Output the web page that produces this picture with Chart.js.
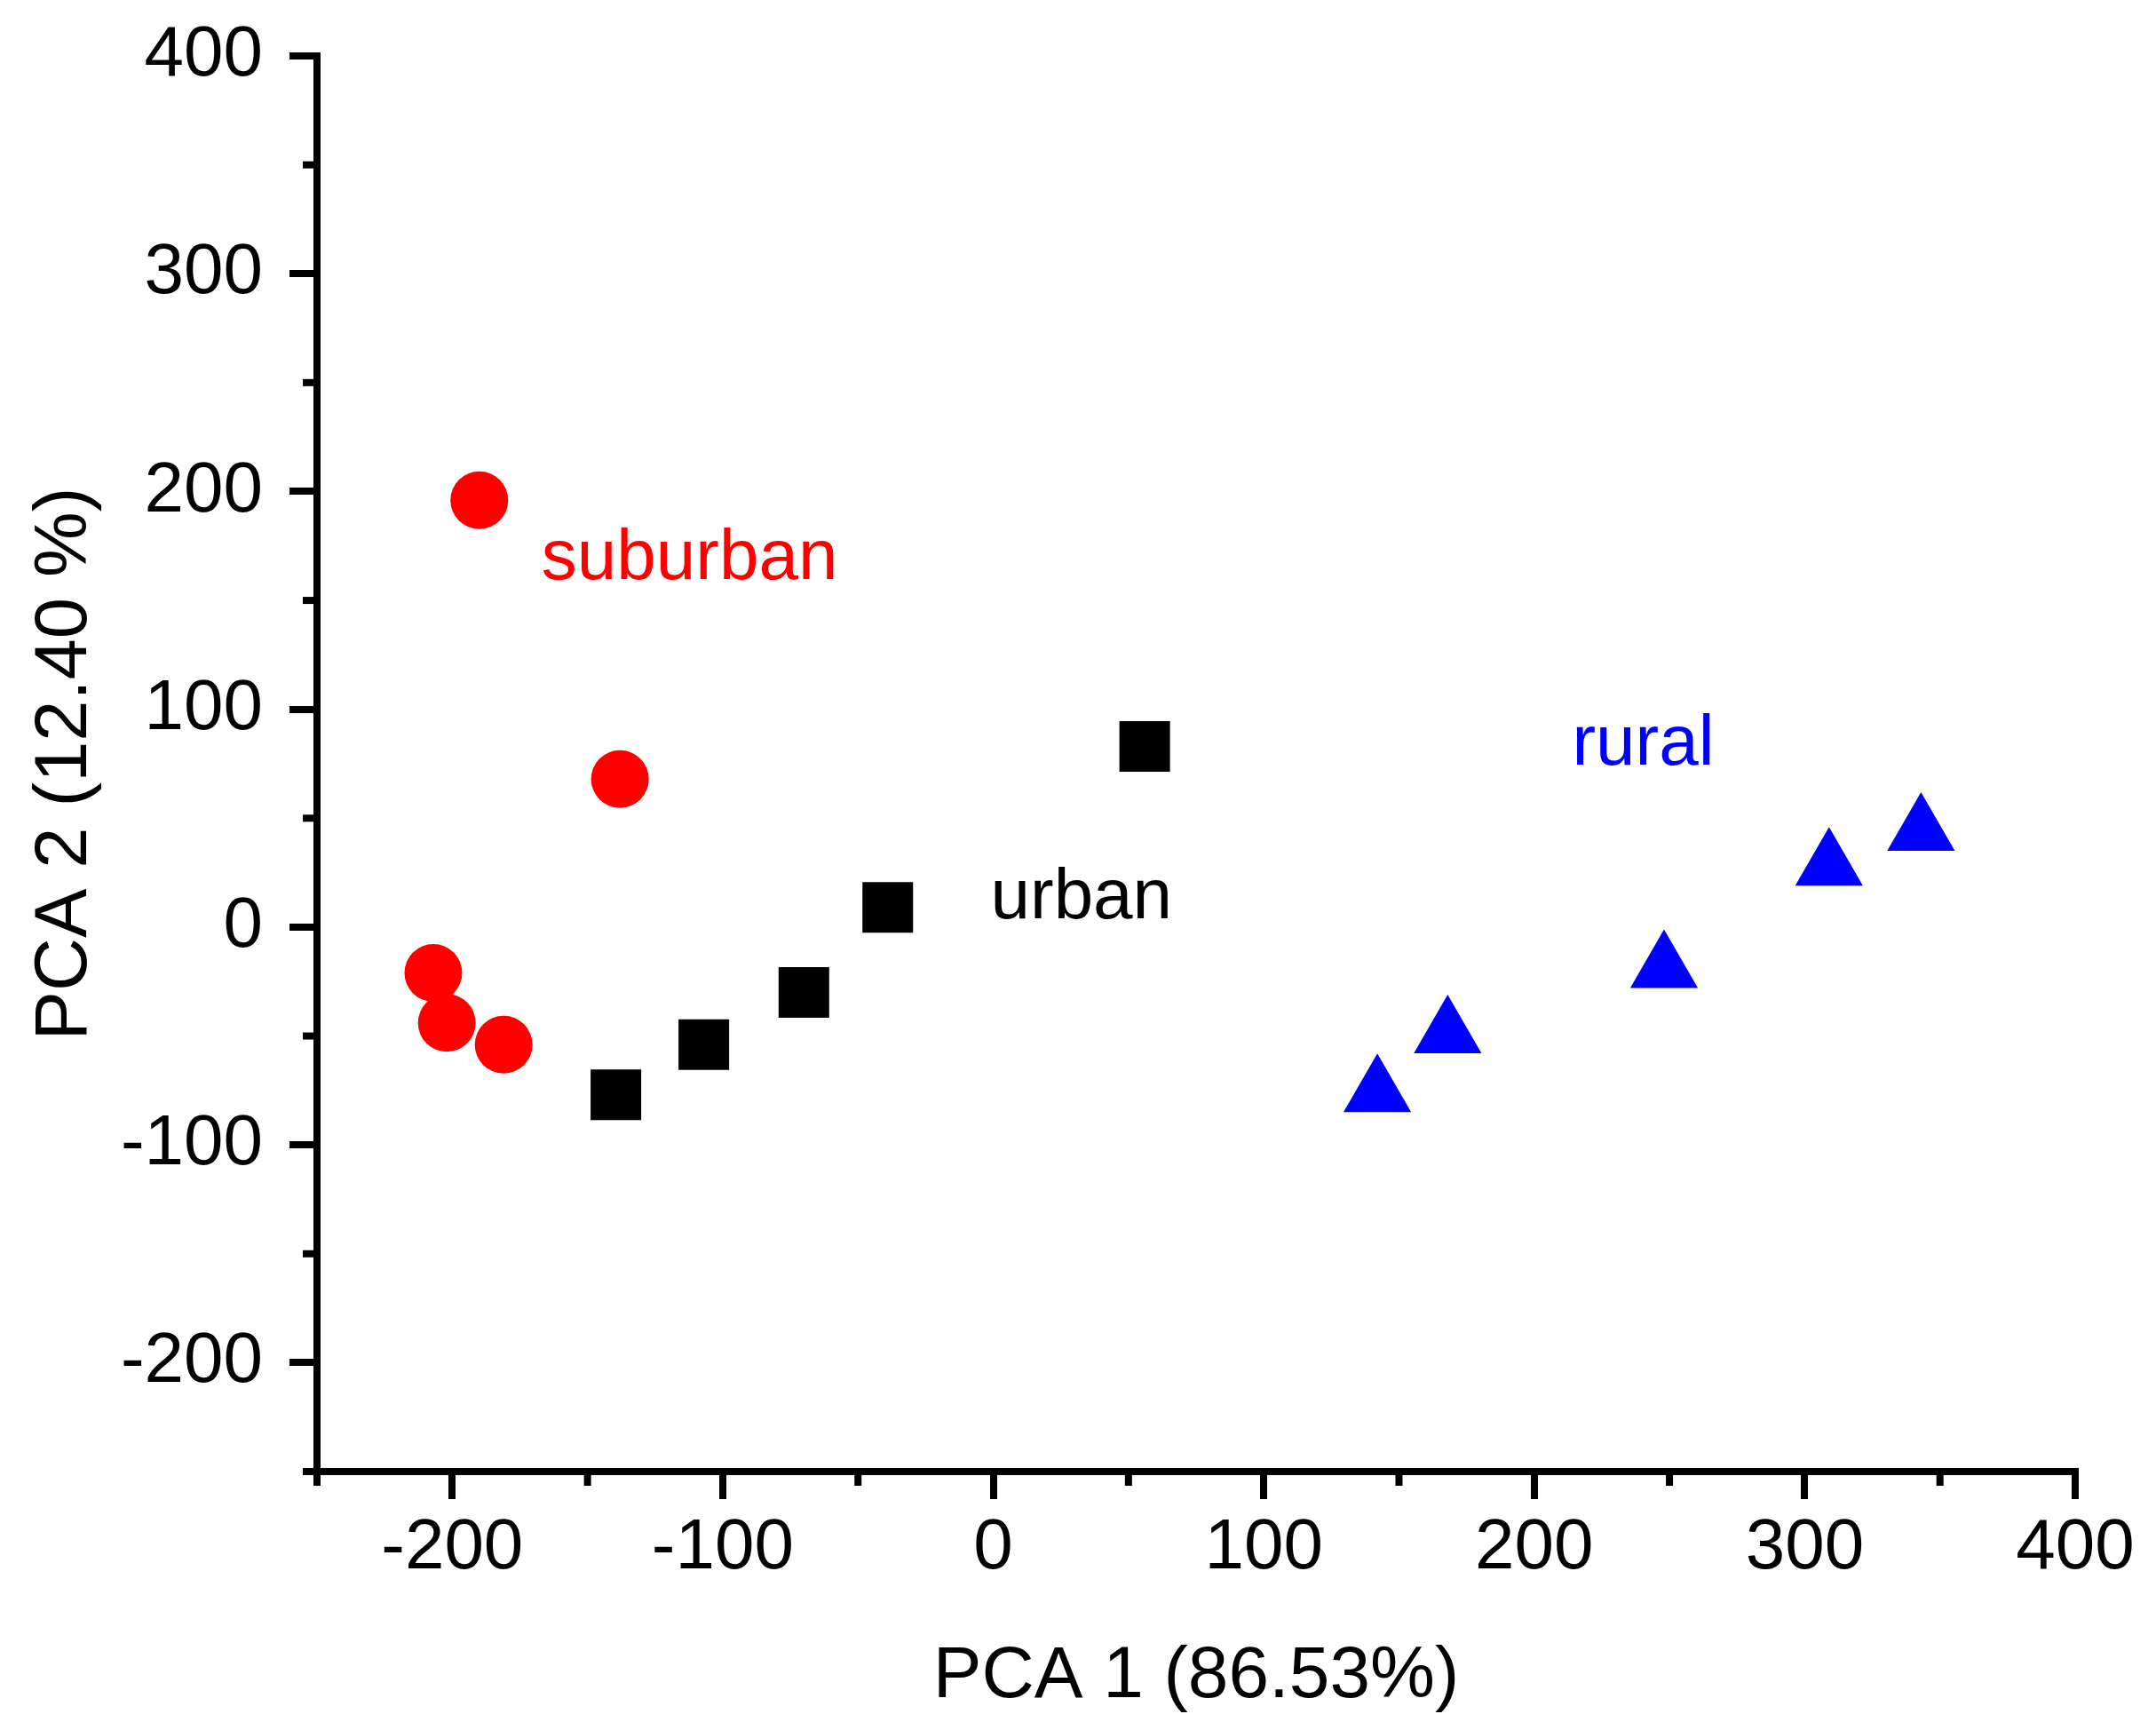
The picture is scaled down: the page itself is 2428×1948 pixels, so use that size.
<!DOCTYPE html>
<html>
<head>
<meta charset="utf-8">
<title>PCA score plot</title>
<script src="https://cdn.jsdelivr.net/npm/chart.js@4.4.0/dist/chart.umd.min.js"></script>
<style>
  html, body { margin: 0; padding: 0; background: #fff; }
  canvas { display: block; }
</style>
</head>
<body>
<canvas id="pcaChart" width="2428" height="1948"></canvas>
<script>
// ---- DATA ----
const suburbanX = [-190, -138, -207, -202, -181];
const suburbanY = [196, 68, -21, -44, -54];

const urbanX = [-139.5, -107, -70, -39, 56];
const urbanY = [-77, -54, -30, 9, 83];

const ruralX = [142, 168, 248, 309, 343];
const ruralY = [-76, -49, -19, 28, 44];

// group names written inside the plot, anchored at (x, y) in data units
const groupNames = ["suburban", "urban", "rural"];
const groupLabelX = [-167, -1, 214];
const groupLabelY = [160, 4, 74.5];
const groupColors = ["#ff0000", "#000000", "#0000ff"];

// axes
const axisMin = -250;
const axisMax = 400;
const tickStep = 50;   // every tick
const labelStep = 100; // labelled (long) ticks

const xTitle = "PCA 1 (86.53%)";
const yTitle = "PCA 2 (12.40 %)";

const fontFamily = "'Liberation Sans', Arial, sans-serif";

// ---- helpers ----
function toPoints(xs, ys) {
    return xs.map((x, i) => ({ x: x, y: ys[i] }));
}

function isMajor(value) {
    return Math.abs(value % labelStep) === 0;
}

function tickLabel(value) {
    return isMajor(value) ? String(value) : "";
}

// only long ticks come from chart.js, short ones from the plugin below
function majorTickColor(ctx) {
    return ctx.tick && isMajor(ctx.tick.value) ? "#000" : "rgba(0,0,0,0)";
}

// short ticks between the labelled ones
const minorTicks = {
    id: "minorTicks",
    afterDraw(chart) {
        const { ctx, chartArea, scales } = chart;
        ctx.save();
        ctx.strokeStyle = "#000";
        ctx.lineWidth = 8;
        for (let v = axisMin; v <= axisMax; v += tickStep) {
            if (isMajor(v)) continue;
            const px = scales.x.getPixelForValue(v);
            ctx.beginPath();
            ctx.moveTo(px, chartArea.bottom);
            ctx.lineTo(px, chartArea.bottom + 16);
            ctx.stroke();

            const py = scales.y.getPixelForValue(v);
            ctx.beginPath();
            ctx.moveTo(chartArea.left, py);
            ctx.lineTo(chartArea.left - 16, py);
            ctx.stroke();
        }
        ctx.restore();
    }
};

// "suburban", "urban", "rural" text in the plot
const groupLabels = {
    id: "groupLabels",
    afterDatasetsDraw(chart) {
        const { ctx, scales } = chart;
        ctx.save();
        ctx.font = "80px " + fontFamily;
        ctx.textAlign = "left";
        ctx.textBaseline = "alphabetic";
        groupNames.forEach((name, i) => {
            ctx.fillStyle = groupColors[i];
            ctx.fillText(name,
                scales.x.getPixelForValue(groupLabelX[i]),
                scales.y.getPixelForValue(groupLabelY[i]));
        });
        ctx.restore();
    }
};

function axisOptions(title, titleSize, titlePadding, labelPadding, labelLineHeight) {
    return {
        type: "linear",
        min: axisMin,
        max: axisMax,
        ticks: {
            stepSize: tickStep,
            callback: tickLabel,
            autoSkip: false,
            maxRotation: 0,
            minRotation: 0,
            padding: labelPadding,
            color: "#000",
            font: { family: fontFamily, size: 80, lineHeight: labelLineHeight }
        },
        grid: {
            drawOnChartArea: false,
            drawTicks: true,
            tickLength: 31,
            tickWidth: 8,
            lineWidth: 8,
            tickColor: majorTickColor
        },
        border: { display: true, color: "#000", width: 8 },
        title: {
            display: true,
            text: title,
            color: "#000",
            font: { family: fontFamily, size: titleSize },
            padding: titlePadding
        }
    };
}

const xAxis = axisOptions(xTitle, 82, { top: 0, bottom: 10 }, 8, 1.2);
xAxis.afterFit = (scale) => { scale.height = 291; };

// small line height so the top label does not push the plot area down
const yAxis = axisOptions(yTitle, 83, { top: 24, bottom: 0 }, 30, 0.6);
yAxis.afterFit = (scale) => { scale.width = 357; };

const ctx = document.getElementById("pcaChart").getContext("2d");

new Chart(ctx, {
    type: "scatter",
    data: {
        datasets: [
            {
                label: "suburban",
                data: toPoints(suburbanX, suburbanY),
                pointStyle: "circle",
                pointRadius: 32.5,
                backgroundColor: "#ff0000",
                borderWidth: 0
            },
            {
                label: "urban",
                data: toPoints(urbanX, urbanY),
                pointStyle: "rect",
                pointRadius: 40.3,
                backgroundColor: "#000000",
                borderWidth: 0
            },
            {
                label: "rural",
                data: toPoints(ruralX, ruralY),
                pointStyle: "triangle",
                pointRadius: 44,
                backgroundColor: "#0000ff",
                borderWidth: 0
            }
        ]
    },
    options: {
        responsive: false,
        devicePixelRatio: 1,
        animation: false,
        layout: { padding: { top: 63, right: 91, left: 0, bottom: 0 } },
        plugins: {
            legend: { display: false },
            tooltip: { enabled: false }
        },
        scales: { x: xAxis, y: yAxis }
    },
    plugins: [minorTicks, groupLabels]
});
</script>
</body>
</html>
